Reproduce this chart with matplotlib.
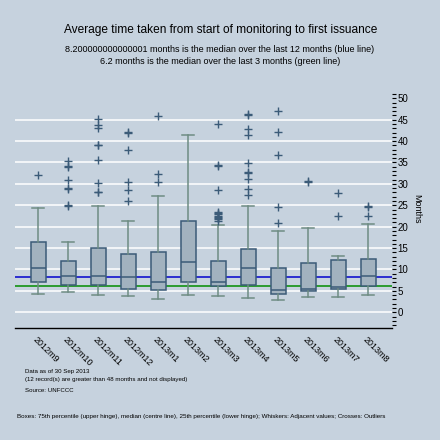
import matplotlib
matplotlib.use("Agg")
import matplotlib.pyplot as plt
from matplotlib.ticker import MultipleLocator

plt.rcParams['font.family'] = ['Liberation Sans', 'DejaVu Sans']

months = ["2012m9", "2012m10", "2012m11", "2012m12", "2013m1", "2013m2",
          "2013m3", "2013m4", "2013m5", "2013m6", "2013m7", "2013m8"]
whisker_low = [4.2, 4.7, 4.0, 3.7, 3.0, 4.0, 3.7, 3.3, 2.8, 3.5, 3.5, 4.0]
q1 = [7.0, 6.3, 6.3, 5.4, 5.1, 7.0, 6.1, 6.3, 4.2, 4.9, 5.4, 6.1]
median = [10.3, 8.4, 8.4, 8.2, 7.0, 11.7, 7.0, 10.3, 5.1, 5.4, 5.8, 8.4]
q3 = [16.4, 11.9, 15.0, 13.6, 14.0, 21.3, 11.9, 14.7, 10.3, 11.5, 12.2, 12.4]
whisker_high = [24.3, 16.4, 24.9, 21.3, 27.1, 41.4, 20.3, 24.8, 18.9, 19.6, 13.1, 20.6]
outliers = [
    [32.0],
    [35.4, 34.1, 33.9, 30.8, 29.1, 28.9, 25.0, 24.8],
    [45.1, 43.7, 43.0, 39.2, 39.0, 35.7, 30.3, 28.2, 28.0],
    [42.1, 41.9, 37.9, 30.5, 28.6, 25.9],
    [45.9, 32.2, 30.4],
    [],
    [44.1, 34.3, 34.2, 28.6, 23.4, 23.1, 22.9, 22.6, 22.3, 22.0, 21.7, 21.4],
    [46.4, 46.2, 42.9, 41.5, 34.9, 32.8, 32.6, 31.2, 28.7, 27.3],
    [47.0, 42.1, 36.7, 24.7, 20.9],
    [30.6, 30.4],
    [27.8, 22.5],
    [24.8, 24.6, 22.5],
]
median_12m = 8.200000000000001
median_3m = 6.2

bg = '#c6d2de'
box_fill = '#a2b2bf'
box_edge = '#3b5b78'
whisk = '#6e8c83'

fig = plt.figure(figsize=(4.4, 4.4), dpi=100, facecolor=bg)
W = H = 440.0
ax = fig.add_axes([15 / W, (H - 328) / H, (392 - 15) / W, (328 - 90) / H])
ax.set_facecolor(bg)

ax.set_xlim(-0.767, 11.8)
ax.set_ylim(-3.67, 51.94)

for v in range(0, 50, 5):
    ax.axhline(v, color='white', lw=1.1, zorder=1)

ax.axhline(median_12m, color='#0000cc', lw=1.1, zorder=2)
ax.axhline(median_3m, color='#008c00', lw=1.1, zorder=2)

stats = []
for i in range(len(months)):
    stats.append(dict(whislo=whisker_low[i], q1=q1[i], med=median[i], q3=q3[i],
                      whishi=whisker_high[i], fliers=outliers[i], label=months[i]))

ax.bxp(stats, positions=list(range(len(months))), widths=0.5, capwidths=0.37,
       patch_artist=True, showfliers=True,
       boxprops=dict(facecolor=box_fill, edgecolor=box_edge, linewidth=1.1),
       medianprops=dict(color=box_edge, linewidth=1.1),
       whiskerprops=dict(color=whisk, linewidth=1.1),
       capprops=dict(color=whisk, linewidth=1.1),
       flierprops=dict(marker='+', markeredgecolor=box_edge, markersize=6,
                       markeredgewidth=1.0, linestyle='none'),
       zorder=3)

for s in ['top', 'left', 'right']:
    ax.spines[s].set_visible(False)
ax.spines['bottom'].set_color('black')
ax.spines['bottom'].set_linewidth(1.0)

ax.set_xticks(range(len(months)))
ax.set_xticklabels(months, rotation=-45, ha='left', va='top',
                   rotation_mode='anchor', fontsize=6.5)
ax.tick_params(axis='x', length=0, pad=5)

ax.yaxis.tick_right()
ax.yaxis.set_label_position('right')
ax.set_yticks(range(0, 51, 5))
ax.yaxis.set_minor_locator(MultipleLocator(1))
ax.tick_params(axis='y', which='major', length=3, width=0.8, labelsize=7, pad=1)
ax.tick_params(axis='y', which='minor', length=3, width=0.8)
ax.set_ylabel('Months', rotation=270, fontsize=6.5, labelpad=9)

def ftext(px, py, s, **kw):
    fig.text(px / W, 1 - py / H, s, **kw)

ftext(220.5, 30, "Average time taken from start of monitoring to first issuance",
      ha='center', va='center', fontsize=8.6)
ftext(220, 49.3, f"{median_12m} months is the median over the last 12 months (blue line)",
      ha='center', va='center', fontsize=6.5)
ftext(220, 62, f"{median_3m} months is the median over the last 3 months (green line)",
      ha='center', va='center', fontsize=6.5)

ftext(25, 371.3, "Data as of 30 Sep 2013", ha='left', va='center', fontsize=4.4)
ftext(25, 379.7, "(12 record(s) are greater than 48 months and not displayed)",
      ha='left', va='center', fontsize=4.4)
ftext(25, 390, "Source: UNFCCC", ha='left', va='center', fontsize=4.4)
ftext(17, 416.7, "Boxes: 75th percentile (upper hinge), median (centre line), 25th percentile "
      "(lower hinge); Whiskers: Adjacent values; Crosses: Outliers",
      ha='left', va='center', fontsize=4.5)

fig.savefig('out.png', dpi=100, facecolor=bg)
